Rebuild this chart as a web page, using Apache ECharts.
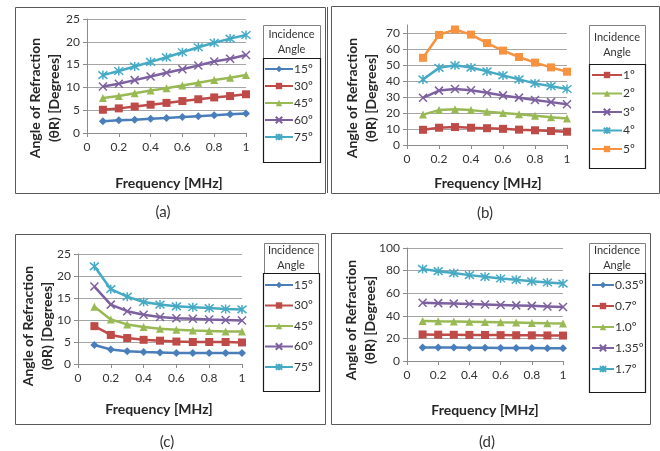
<!DOCTYPE html>
<html><head><meta charset="utf-8">
<script src="https://cdn.jsdelivr.net/npm/echarts@6/dist/echarts.min.js"></script>
<style>html,body{margin:0;padding:0;background:#fff}#c{width:660px;height:451px}</style>
</head><body><div id="c"></div>
<script>
const freq = [0.1, 0.2, 0.3, 0.4, 0.5, 0.6, 0.7, 0.8, 0.9, 1.0];
const xTickLabels = ['0', '0.2', '0.4', '0.6', '0.8', '1'];

// Panel (a)
const aNames = ['15º', '30º', '45º', '60º', '75º'];
const a15 = [2.6, 2.8, 2.9, 3.1, 3.3, 3.5, 3.7, 3.9, 4.1, 4.3];
const a30 = [5.1, 5.4, 5.8, 6.2, 6.6, 7.0, 7.4, 7.8, 8.1, 8.5];
const a45 = [7.7, 8.1, 8.7, 9.3, 9.8, 10.4, 11.0, 11.6, 12.1, 12.7];
const a60 = [10.2, 10.8, 11.6, 12.4, 13.2, 14.0, 14.8, 15.7, 16.3, 17.1];
const a75 = [12.7, 13.6, 14.6, 15.6, 16.6, 17.7, 18.8, 19.8, 20.7, 21.5];
const aYTicks = [0, 5, 10, 15, 20, 25];

// Panel (b)
const bNames = ['1º', '2º', '3º', '4º', '5º'];
const b1 = [9.5, 10.8, 11.2, 10.8, 10.5, 10.1, 9.6, 9.2, 8.7, 8.3];
const b2 = [19.0, 21.8, 22.3, 21.8, 20.8, 20.0, 19.2, 18.3, 17.4, 16.6];
const b3 = [29.5, 34.0, 35.0, 34.2, 32.6, 31.0, 29.6, 28.1, 26.8, 25.5];
const b4 = [41.0, 48.2, 49.8, 48.4, 46.0, 43.5, 41.0, 38.5, 36.8, 35.0];
const b5 = [54.5, 68.8, 72.2, 69.0, 63.7, 59.0, 55.0, 51.5, 48.5, 45.8];
const bYTicks = [0, 10, 20, 30, 40, 50, 60, 70];

// Panel (c)
const cNames = ['15º', '30º', '45º', '60º', '75º'];
const c15 = [4.3, 3.3, 2.9, 2.7, 2.6, 2.5, 2.5, 2.5, 2.5, 2.5];
const c30 = [8.6, 6.6, 5.9, 5.5, 5.3, 5.1, 5.0, 5.0, 5.0, 4.9];
const c45 = [13.0, 10.1, 9.0, 8.4, 8.0, 7.8, 7.6, 7.5, 7.4, 7.4];
const c60 = [17.6, 13.5, 12.0, 11.2, 10.7, 10.4, 10.3, 10.1, 10.0, 9.9];
const c75 = [22.2, 17.0, 15.3, 14.1, 13.5, 13.1, 12.9, 12.7, 12.5, 12.4];
const cYTicks = [0, 5, 10, 15, 20, 25];

// Panel (d)
const dNames = ['0.35º', '0.7º', '1.0º', '1.35º', '1.7º'];
const d035 = [12.0, 12.0, 12.0, 11.8, 11.7, 11.6, 11.5, 11.4, 11.3, 11.2];
const d07 = [23.5, 23.3, 23.2, 23.1, 23.0, 22.9, 22.8, 22.7, 22.6, 22.5];
const d10 = [35.5, 35.2, 35.0, 34.8, 34.5, 34.2, 34.0, 33.7, 33.4, 33.2];
const d135 = [51.5, 51.2, 50.8, 50.4, 50.0, 49.6, 49.2, 48.8, 48.3, 47.8];
const d17 = [81.5, 79.5, 77.8, 76.0, 74.5, 73.0, 71.8, 70.5, 69.5, 68.5];
const dYTicks = [0, 20, 40, 60, 80, 100];

const panelLetters = ['(a)', '(b)', '(c)', '(d)'];
const yTitle = 'Angle of Refraction\n(θR) [Degrees]';
const xTitle = 'Frequency [MHz]';
const legendTitle = 'Incidence\nAngle';

const FONT = 'Lato, "Open Sans", sans-serif';
const COL = {blue:'#4A7EBB', red:'#BE4B48', green:'#98B954', purple:'#7D60A0', cyan:'#46AAC5', orange:'#F69240'};
const SYM = {
  diamond: {symbol:'diamond', size:8, stroke:false},
  square: {symbol:'rect', size:8, stroke:false},
  triangle: {symbol:'triangle', size:8, stroke:false},
  cross: {symbol:'path://M0,0L10,10M0,10L10,0', size:8, stroke:true},
  star: {symbol:'path://M0,0L10,10M0,10L10,0M5,-1L5,11', size:9, stroke:true}
};

function mk(name, idx, ys, color, sym) {
  const s = SYM[sym];
  return {
    type:'line', name, xAxisIndex:idx, yAxisIndex:idx,
    data: freq.map((f,i)=>[f, ys[i]]),
    symbol:s.symbol, symbolSize:s.size, showAllSymbol:true,
    lineStyle:{color, width:2.5},
    itemStyle: s.stroke ? {color, borderColor:color, borderWidth:1.5} : {color, borderWidth:0},
    emphasis:{disabled:true}, animation:false, z:3
  };
}

const grids = [
  {left:87, top:19, width:159, height:114},
  {left:407, top:25, width:160, height:120},
  {left:78, top:254, width:164, height:110},
  {left:407, top:248, width:156, height:113}
];
const yTicksAll = [aYTicks, bYTicks, cYTicks, dYTicks];
const yMax = [25, 75, 25, 100];

const xAxes = grids.map((g,i)=>({
  type:'value', gridIndex:i, min:0, max:1, interval:0.2,
  axisLine:{show:true, lineStyle:{color:'#8c8c8c', width:1}},
  axisTick:{show:true, length:4, lineStyle:{color:'#8c8c8c'}},
  splitLine:{show:false},
  axisLabel:{color:'#333', fontSize:12, fontFamily:FONT, margin:8,
    formatter:v=>{const k=Math.round(v*5); return xTickLabels[k]!==undefined?xTickLabels[k]:'';}}
}));
const yAxes = grids.map((g,i)=>{
  const t = yTicksAll[i];
  return {
    type:'value', gridIndex:i, min:t[0], max:yMax[i], interval:t[1]-t[0],
    axisLine:{show:true, lineStyle:{color:'#8c8c8c', width:1}},
    axisTick:{show:true, length:4, lineStyle:{color:'#8c8c8c'}},
    splitLine:{show:true, showMinLine:false, showMaxLine: i!==1, lineStyle:{color:'#a6a6a6', width:1}},
    axisLabel:{color:'#333', fontSize:12, fontFamily:FONT, margin:7, showMaxLabel: i!==1,
      formatter:v=> t.indexOf(v)>=0 ? String(v) : ''}
  };
});

const series = [
  mk(aNames[0],0,a15,COL.blue,'diamond'), mk(aNames[1],0,a30,COL.red,'square'),
  mk(aNames[2],0,a45,COL.green,'triangle'), mk(aNames[3],0,a60,COL.purple,'cross'),
  mk(aNames[4],0,a75,COL.cyan,'star'),
  mk(bNames[0],1,b1,COL.red,'square'), mk(bNames[1],1,b2,COL.green,'triangle'),
  mk(bNames[2],1,b3,COL.purple,'cross'), mk(bNames[3],1,b4,COL.cyan,'star'),
  mk(bNames[4],1,b5,COL.orange,'square'),
  mk(cNames[0],2,c15,COL.blue,'diamond'), mk(cNames[1],2,c30,COL.red,'square'),
  mk(cNames[2],2,c45,COL.green,'triangle'), mk(cNames[3],2,c60,COL.purple,'cross'),
  mk(cNames[4],2,c75,COL.cyan,'star'),
  mk(dNames[0],3,d035,COL.blue,'diamond'), mk(dNames[1],3,d07,COL.red,'square'),
  mk(dNames[2],3,d10,COL.green,'triangle'), mk(dNames[3],3,d135,COL.purple,'cross'),
  mk(dNames[4],3,d17,COL.cyan,'star')
];

function lg(names, left, top, gap, w) {
  return {data:names, orient:'vertical', left, top, padding:0, itemGap:gap,
    itemWidth:w, itemHeight:8, selectedMode:false,
    textStyle:{fontSize:12, fontFamily:FONT, color:'#333', padding:[0,0,0,-4]}};
}
const legends = [
  lg(aNames, 264, 63, 5, 28),
  lg(bNames, 591, 69, 6.5, 30),
  lg(cNames, 264, 279, 8.5, 28),
  lg(dNames, 591, 279, 9, 22)
];

// frames and texts
const frames = [[15,7,310,186],[331,6,328,187],[15,234,310,190],[331,233,319,191]];
const headers = [[263,25,57,33],[589,25,56,39],[264,243,54,30],[589,243,56,30]];
const lboxes = [[263,58,57,104],[589,64,56,104],[263,273,56,118],[589,273,56,119]];
const yTitlePos = [[45,98],[362,98],[38,326],[361,320]];
const xTitlePos = [[169,183],[488,183],[159,409],[485,410]];
const letterPos = [[163,212],[485,213],[167,442],[487,442]];

const graphic = [];
frames.forEach(f=>graphic.push({type:'rect', shape:{x:f[0]+0.5,y:f[1]+0.5,width:f[2],height:f[3]}, style:{fill:'none', stroke:'#595959', lineWidth:1}, z:0}));
graphic.push({type:'line', shape:{x1:327.5,y1:7,x2:327.5,y2:193}, style:{stroke:'#595959', lineWidth:1}});
headers.forEach(h=>{
  graphic.push({type:'rect', shape:{x:h[0]+0.5,y:h[1]+0.5,width:h[2],height:h[3]}, style:{fill:'#fff', stroke:'#7f7f7f', lineWidth:1}});
  graphic.push({type:'text', x:h[0]+h[2]/2, y:h[1]+h[3]/2, style:{text:legendTitle, align:'center', verticalAlign:'middle', font:'11px '+FONT, lineHeight:15, fill:'#333'}});
});
lboxes.forEach(b=>graphic.push({type:'rect', shape:{x:b[0]+0.5,y:b[1]+0.5,width:b[2],height:b[3]}, style:{fill:'none', stroke:'#1a1a1a', lineWidth:1.2}}));
yTitlePos.forEach(p=>graphic.push({type:'text', x:p[0], y:p[1], rotation:Math.PI/2, style:{text:yTitle, align:'center', verticalAlign:'middle', font:'bold 14px '+FONT, lineHeight:19, fill:'#262626'}}));
xTitlePos.forEach(p=>graphic.push({type:'text', x:p[0], y:p[1], style:{text:xTitle, align:'center', verticalAlign:'middle', font:'bold 14px '+FONT, fill:'#262626'}}));
letterPos.forEach((p,i)=>graphic.push({type:'text', x:p[0], y:p[1], style:{text:panelLetters[i], align:'center', verticalAlign:'middle', font:'15px '+FONT, fill:'#333'}}));

const chart = echarts.init(document.getElementById('c'), null, {renderer:'canvas'});
chart.setOption({
  animation:false, backgroundColor:'#fff',
  grid:grids, xAxis:xAxes, yAxis:yAxes, series, legend:legends, graphic
});
</script></body></html>
